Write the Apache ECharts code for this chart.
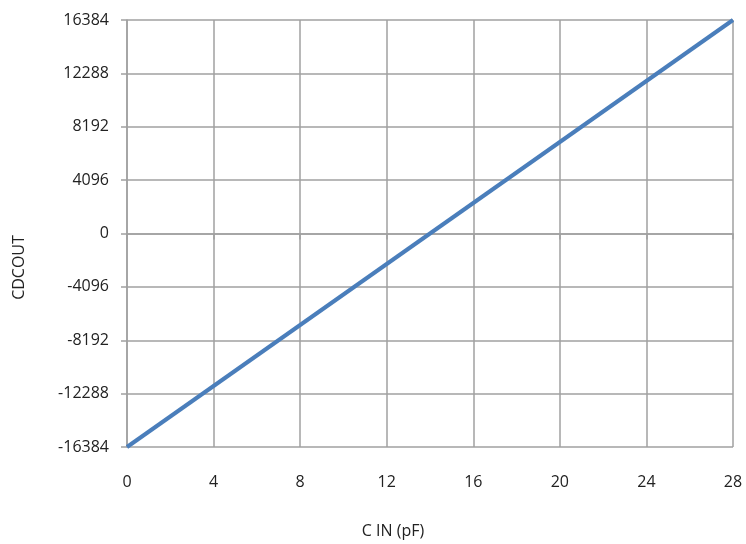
<!DOCTYPE html>
<html>
<head>
<meta charset="utf-8">
<script src="https://cdn.jsdelivr.net/npm/echarts@6/dist/echarts.min.js"></script>
<style>html,body{margin:0;padding:0;background:#fff}#c{width:746px;height:544px}</style>
</head>
<body>
<div id="c"></div>
<script>
const cinPF = [0, 28];
const cdcOut = [-16384, 16384];
const xTicks = [0, 4, 8, 12, 16, 20, 24, 28];
const yTicks = [-16384, -12288, -8192, -4096, 0, 4096, 8192, 12288, 16384];

const chart = echarts.init(document.getElementById('c'));
const font = 'Open Sans';
chart.setOption({
  animation: false,
  grid: {left: 127, right: 13, top: 20, bottom: 96},
  xAxis: {
    type: 'value', min: xTicks[0], max: xTicks[xTicks.length - 1], interval: 4,
    name: 'C IN (pF)', nameLocation: 'middle', nameGap: 76,
    nameTextStyle: {fontFamily: font, fontSize: 16, color: '#222', padding: [0, 74, 0, 0]},
    axisLine: {show: true, lineStyle: {color: '#a0a0a0', width: 1.5}},
    axisTick: {show: true, length: 6, lineStyle: {color: '#a0a0a0', width: 1.5}},
    splitLine: {show: true, lineStyle: {color: '#a0a0a0', width: 1.5}},
    axisLabel: {fontFamily: font, fontSize: 16, color: '#222', margin: 27, formatter: v => String(v)}
  },
  yAxis: {
    type: 'value', min: yTicks[0], max: yTicks[yTicks.length - 1], interval: 4096,
    name: 'CDCOUT', nameLocation: 'middle', nameGap: 100, nameRotate: 90,
    nameTextStyle: {fontFamily: font, fontSize: 16, color: '#222', padding: [0, 68, 0, 0]},
    axisLine: {show: true, lineStyle: {color: '#a0a0a0', width: 1.5}},
    axisTick: {show: true, length: 6, lineStyle: {color: '#a0a0a0', width: 1.5}},
    splitLine: {show: true, lineStyle: {color: '#a0a0a0', width: 1.5}},
    axisLabel: {fontFamily: font, fontSize: 16, color: '#222', margin: 18, formatter: v => String(v)}
  },
  series: [{
    type: 'line',
    data: cinPF.map((x, i) => [x, cdcOut[i]]),
    showSymbol: false,
    lineStyle: {color: '#4a7ebb', width: 4},
    itemStyle: {color: '#4a7ebb'}
  }]
});
</script>
</body>
</html>
